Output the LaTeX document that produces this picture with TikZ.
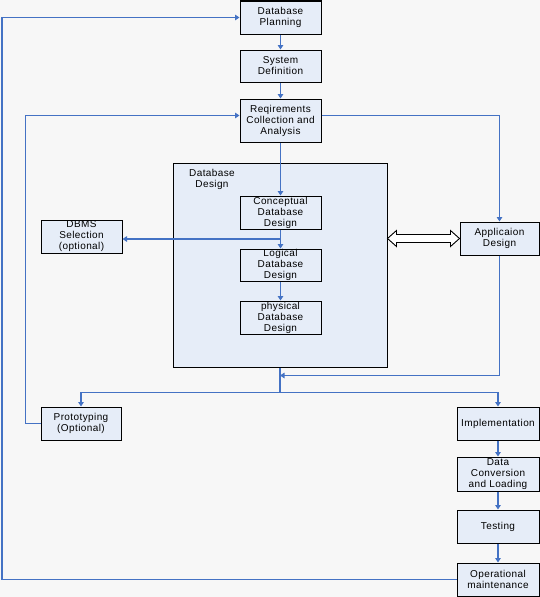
\documentclass[tikz,border=0pt]{standalone}
\usepackage{fontspec}
\setmainfont{Liberation Sans}[LetterSpace=4]
\usetikzlibrary{positioning,arrows.meta,calc}
\definecolor{paper}{HTML}{F7F7F7}
\definecolor{stagefill}{HTML}{E6EDF8}
\definecolor{flowblue}{HTML}{4472C4}

\begin{document}
\begin{tikzpicture}[x=1pt, y=-1pt,
    stage/.style={draw=black, fill=stagefill, line width=1pt, align=center,
        inner sep=0pt, minimum width=81pt, minimum height=33pt,
        font=\fontsize{10}{11}\selectfont},
    flow/.style={flowblue, line width=1.2pt, -{Triangle[width=5.5pt,length=4.5pt]}},
    hollow/.style={draw=black, fill=white, line width=0.9pt}]

    % Page background
    \fill[paper] (0,0) rectangle (540,597);
    \useasboundingbox (0,0) rectangle (540,597);

    % Database design frame
    \node[stage, minimum width=214pt, minimum height=204pt] (dbdesign) at (280,265) {};
    \node[font=\fontsize{10}{11}\selectfont, align=center] (dbtitle) at (212,179) {Database\\Design};

    % Main column
    \node[stage] (planning) at (280.5,17.5) {Database\\Planning};
    \node[stage, minimum height=32pt] (sysdef) at (280.5,66) {System\\Definition};
    \node[stage, minimum height=43pt] (reqs) at (280.5,120.5) {Reqirements\\Collection and\\Analysis};
    \node[stage] (conceptual) at (280.5,212.5) {Conceptual\\Database\\Design};
    \node[stage, minimum height=32pt] (logical) at (280.5,265) {Logical\\Database\\Design};
    \node[stage] (physical) at (280.5,317.5) {physical\\Database\\Design};

    % Side stages
    \node[stage] (dbms) at (81.5,236.5) {DBMS\\Selection\\(optional)};
    \node[stage, minimum width=79pt] (appdesign) at (499.5,238.5) {Applicaion\\Design};
    \node[stage, minimum width=80pt] (proto) at (81,423.5) {Prototyping\\(Optional)};

    % Right column
    \node[stage, minimum width=82pt] (impl) at (498,423.5) {Implementation};
    \node[stage, minimum width=82pt, minimum height=34pt] (convert) at (498,474) {Data\\Conversion\\and Loading};
    \node[stage, minimum width=82pt] (testing) at (498,526.5) {Testing};
    \node[stage, minimum width=82pt] (operate) at (498,579.5) {Operational\\maintenance};

    % Helper points
    \coordinate (branch) at ($(conceptual.south)!0.5!(logical.north)$);
    \coordinate (merge) at ($(dbdesign.south)+(0,8)$);
    \coordinate (split) at ($(dbdesign.south)+(0,25)$);
    \coordinate (edge) at (2,300);

    % Top-down flow
    \draw[flow] (planning) -- (sysdef);
    \draw[flow] (sysdef) -- (reqs);
    \draw[flow] (reqs) -- (conceptual);
    \draw[flow] (conceptual) -- (logical);
    \draw[flow] (logical) -- (physical);
    \draw[flow] (branch) -- (branch -| dbms.east);
    \draw[flow] ([yshift=5pt]reqs.east) -| (appdesign.north);

    % Two-way link between the designs
    \coordinate (dl) at (dbdesign.east |- appdesign.west);
    \coordinate (dr) at (appdesign.west);
    \draw[hollow] (dl) -- ($(dl)+(9,-8)$) -- ($(dl)+(9,-4)$) -- ($(dr)+(-9,-4)$)
        -- ($(dr)+(-9,-8)$) -- (dr) -- ($(dr)+(-9,8)$) -- ($(dr)+(-9,4)$)
        -- ($(dl)+(9,4)$) -- ($(dl)+(9,8)$) -- cycle;

    % Merge and split below the frame
    \draw[flow] (appdesign.south) |- (merge);
    \draw[flow] (dbdesign.south) -- (split) -| (proto.north);
    \draw[flow] (split) -| (impl.north);

    % Right column flow
    \draw[flow] (impl) -- (convert);
    \draw[flow] (convert) -- (testing);
    \draw[flow] (testing) -- (operate);

    % Feedback loops
    \draw[flow] (proto.west) -- ++(-15,0) |- ([yshift=5pt]reqs.west);
    \draw[flow] (operate.west) -| (edge) |- (planning.west);
\end{tikzpicture}
\end{document}
